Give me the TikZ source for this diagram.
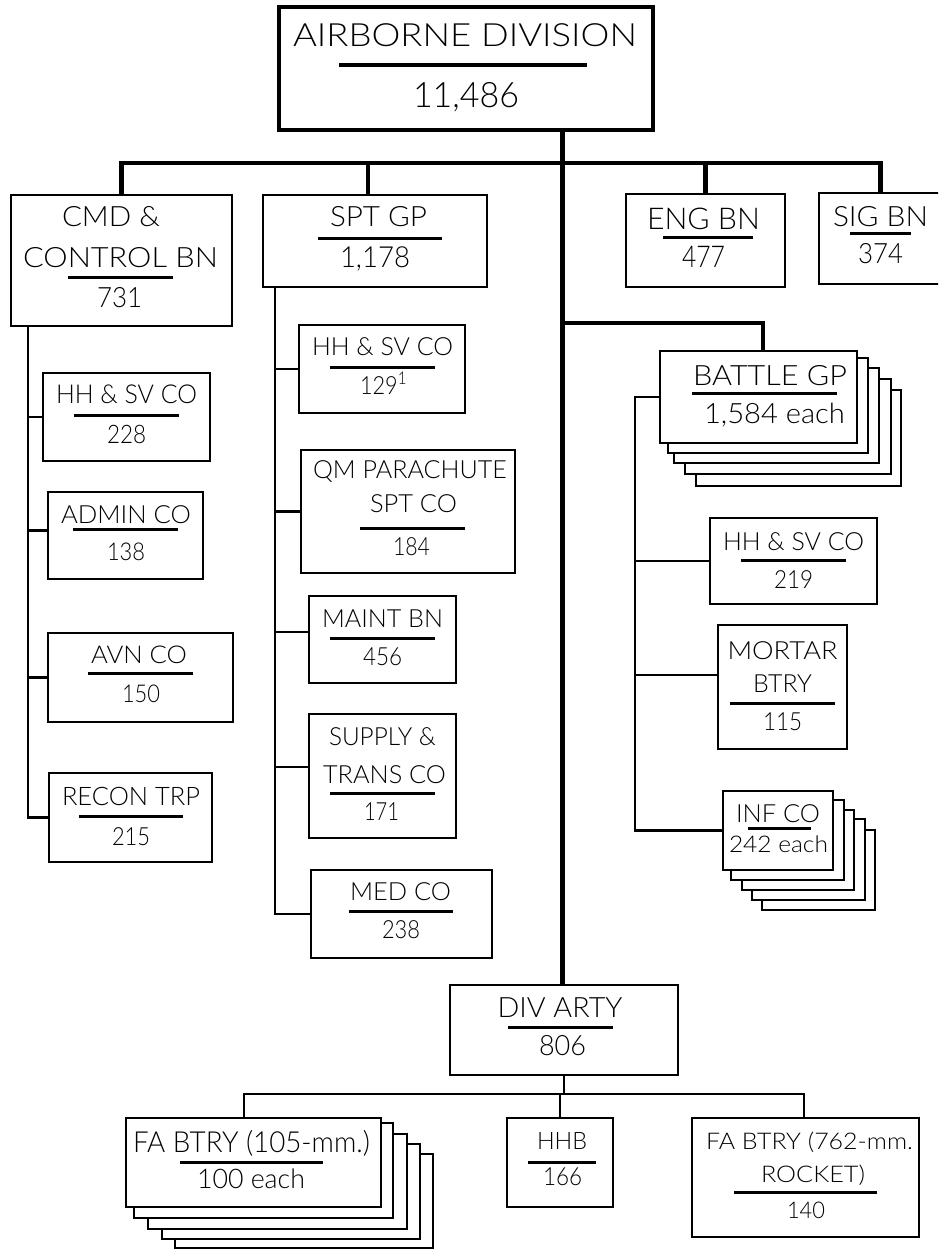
\documentclass[tikz,border=0pt]{standalone}
\usepackage{fontspec}
\setmainfont{Lato Light}
\usepackage{graphicx}
\tikzset{
  bx/.style={draw=black, line width=2.6pt, fill=white, inner sep=0pt, outer sep=0pt, rectangle},
  topbx/.style={bx, line width=4.6pt},
  thn/.style={line width=2.6pt},
  thk/.style={line width=4.4pt},
  ulst/.style={line width=3pt},
  ulthk/.style={line width=4.6pt},
  txt/.style={anchor=base, inner sep=0pt, outer sep=0pt},
}
\newcommand\ft[3]{{\fontsize{#1}{#1}\selectfont\setbox0\hbox{#3}\edef\ww{\the\wd0}\pgfmathsetmacro\rr{#2/\ww}\scalebox{\rr}[1]{\box0}}}
\newcommand\bxx[6][bx]{\node[#1, minimum width={(#5-#3)*1pt}, minimum height={(#6-#4)*1pt}] (#2) at ({(#3+#5)/2},{(#4+#6)/2}) {};}
\newcommand\tx[6]{\node[txt] (#1) at (#2,#3) {\ft{#4}{#5}{#6}};}
\newcommand\ul[3]{\draw[ulst] (#1,#3) -- (#2,#3);}
\begin{document}
\begin{tikzpicture}[x=1pt,y=-1pt]
\clip (0,0) rectangle (938,1249);
\fill[white] (0,0) rectangle (938,1249);
% ---------- boxes ----------
\bxx[topbx]{top}{279}{7}{653}{130}
\bxx{cmd}{11}{195}{232}{326}
\bxx{spt}{263}{195}{487}{287}
\bxx{eng}{626}{194}{785}{287}
\bxx{sig}{819}{193}{942}{284}
% left column
\bxx{hha}{43}{373}{210}{461}
\bxx{adm}{48}{492}{203}{579}
\bxx{avn}{48}{633}{233}{722}
\bxx{rec}{49}{773}{212}{862}
% spt column
\bxx{hhb}{299}{325}{465}{413}
\bxx{qm}{301}{450}{515}{573}
\bxx{mnt}{309}{596}{456}{683}
\bxx{sup}{309}{714}{456}{838}
\bxx{med}{311}{870}{492}{958}
% battle gp stack
\bxx{bg4}{696}{390}{901}{486}
\bxx{bg3}{685}{379}{891}{474}
\bxx{bg2}{674}{368}{879}{463}
\bxx{bg1}{668}{358}{868}{453}
\bxx{bg0}{660}{351}{857}{443}
\bxx{hhc}{710}{518}{877}{604}
\bxx{mor}{718}{625}{847}{749}
% inf co stack
\bxx{inf4}{762}{830}{875}{910}
\bxx{inf3}{752}{819}{865}{900}
\bxx{inf2}{742}{810}{854}{890}
\bxx{inf1}{731}{800}{844}{880}
\bxx{inf0}{723}{791}{833}{870}
% div arty
\bxx{da}{450}{985}{678}{1075}
\bxx{fa4}{175}{1154}{433}{1248}
\bxx{fa3}{162}{1144}{420}{1239}
\bxx{fa2}{148}{1134}{407}{1229}
\bxx{fa1}{134}{1123}{393}{1218}
\bxx{fa0}{126}{1118}{381}{1207}
\bxx{hhq}{507}{1118}{613}{1207}
\bxx{fr}{692}{1118}{919}{1237}
% ---------- connectors ----------
\coordinate (bus) at (0,163);
\coordinate (trunk) at (562.5,0);
\coordinate (bgb) at (0,323);
\draw[thk] (cmd.north) -- (cmd.north |- bus) -- (sig.north |- bus) -- (sig.north);
\draw[thk] ([xshift=-7pt]spt.north) -- ([xshift=-7pt]spt.north |- bus);
\draw[thk] (eng.north) -- (eng.north |- bus);
\draw[thk] (top.south -| trunk) -- (da.north -| trunk);
\draw[thk] (trunk |- bgb) -- ([xshift=4.5pt]bg0.north |- bgb) -- ([xshift=4.5pt]bg0.north);
% left column
\coordinate (cx) at (28,0);
\draw[thn] (cmd.south -| cx) |- (rec.west);
\draw[thn] (hha.west -| cx) -- (hha.west);
\draw[thn] ([yshift=5pt]adm.west -| cx) -- ([yshift=5pt]adm.west);
\draw[thn] (avn.west -| cx) -- (avn.west);
% spt column
\coordinate (sx) at (275,0);
\draw[thn] (spt.south -| sx) |- (med.west);
\draw[thn] (hhb.west -| sx) -- (hhb.west);
\draw[thn] (qm.west -| sx) -- (qm.west);
\draw[thn] ([yshift=7.5pt]mnt.west -| sx) -- ([yshift=7.5pt]mnt.west);
\draw[thn] ([yshift=9pt]sup.west -| sx) -- ([yshift=9pt]sup.west);
% battle gp column
\coordinate (rx) at (635,0);
\draw[thn] (bg0.west) -- (bg0.west -| rx) |- (inf0.west);
\draw[thn] (hhc.west -| rx) -- (hhc.west);
\draw[thn] ([yshift=12pt]mor.west -| rx) -- ([yshift=12pt]mor.west);
% div arty
\coordinate (dy) at (0,1094);
\draw[thn] (da.south) -- (da.south |- dy);
\draw[thn] ([xshift=-9.5pt]fa0.north) |- ([xshift=-1.5pt]fr.north |- dy) -- ([xshift=-1.5pt]fr.north);
\draw[thn] (hhq.north |- dy) -- (hhq.north);
% ---------- texts ----------
\tx{t1}{465}{47}{32}{344}{AIRBORNE DIVISION}
\draw[ulthk] (339,65) -- (587,65);
\tx{t2}{466}{108}{35}{106}{11,486}
\tx{t3}{111}{227}{28}{98}{CMD \&}
\tx{t4}{120.5}{267}{28}{195}{CONTROL BN}
\ul{68}{173}{277}
\tx{t5}{119.5}{307}{28}{45}{731}
\tx{t6}{378.5}{227}{28}{97}{SPT GP}
\ul{318}{442}{239}
\tx{t7}{375}{267}{29}{70}{1,178}
\tx{t8}{703.5}{230}{30}{113}{ENG BN}
\ul{663}{753}{238}
\tx{t9}{703.5}{267}{30}{43}{477}
\tx{t10}{880.5}{226}{28}{95}{SIG BN}
\ul{850}{911}{234}
\tx{t11}{880.5}{263}{28}{45}{374}
% left column
\tx{t12}{126.5}{403}{26}{141}{HH \& SV CO}
\ul{74}{179}{415}
\tx{t13}{126.5}{443}{25.5}{39}{228}
\tx{t14}{126}{523}{25}{130}{ADMIN CO}
\ul{73}{178}{529}
\tx{t15}{126}{560}{24.5}{38}{138}
\tx{t16}{139}{663}{24.5}{96}{AVN CO}
\ul{88}{193}{673}
\tx{t17}{141}{702}{24.5}{38}{150}
\tx{t18}{131}{805}{25.5}{138}{RECON TRP}
\ul{79}{183}{816}
\tx{t19}{131}{845}{25}{38}{215}
% spt column
\tx{t20}{382.5}{355}{25}{141}{HH \& SV CO}
\ul{330}{435}{367}
\tx{t21}{383.5}{394}{25}{47}{129\textsuperscript{1}}
\tx{t22}{410}{478}{25}{194}{QM PARACHUTE}
\tx{t23}{413.5}{512}{25}{87}{SPT CO}
\ul{360}{465}{528}
\tx{t24}{411.5}{555}{25}{37}{184}
\tx{t25}{382.5}{627}{25}{121}{MAINT BN}
\ul{330}{435}{638}
\tx{t26}{382.5}{665}{25}{39}{456}
\tx{t27}{382.5}{745}{25}{107}{SUPPLY \&}
\tx{t28}{384.5}{783}{25}{123}{TRANS CO}
\ul{330}{435}{793}
\tx{t29}{381.5}{820}{25}{35}{171}
\tx{t30}{400.5}{900}{25}{101}{MED CO}
\ul{349}{453}{911}
\tx{t31}{401}{938}{25}{38}{238}
% battle gp column
\tx{t32}{770}{385}{28}{154}{BATTLE GP}
\ul{692}{837}{393}
\tx{t33}{774.5}{423}{28}{141}{1,584 each}
\tx{t34}{793.5}{550}{25}{141}{HH \& SV CO}
\ul{741}{846}{560}
\tx{t35}{793.5}{588}{25}{39}{219}
\tx{t36}{782.5}{659}{25}{110}{MORTAR}
\tx{t37}{782.5}{692}{25}{59}{BTRY}
\ul{730}{835}{703}
\tx{t38}{782.5}{730}{25}{39}{115}
\tx{t39}{778}{822}{25}{84}{INF CO}
\ul{748}{811}{828}
\tx{t40}{778.5}{852}{23}{99}{242 each}
% div arty
\tx{t41}{560}{1017}{28}{125}{DIV ARTY}
\ul{508}{613}{1027}
\tx{t42}{562.5}{1055}{28}{47}{806}
\tx{t43}{251.5}{1152}{29}{237}{FA BTRY (105-mm.)}
\ul{180}{323}{1162}
\tx{t44}{251}{1188}{27}{108}{100 each}
\tx{t45}{562}{1149}{24}{50}{HHB}
\ul{528}{596}{1162}
\tx{t46}{562.5}{1185}{25}{39}{166}
\tx{t47}{809.5}{1149}{23}{207}{FA BTRY (762-mm.}
\tx{t48}{813}{1182}{23}{104}{ROCKET)}
\ul{734}{877}{1192}
\tx{t49}{806}{1218}{23}{38}{140}
\end{tikzpicture}
\end{document}
